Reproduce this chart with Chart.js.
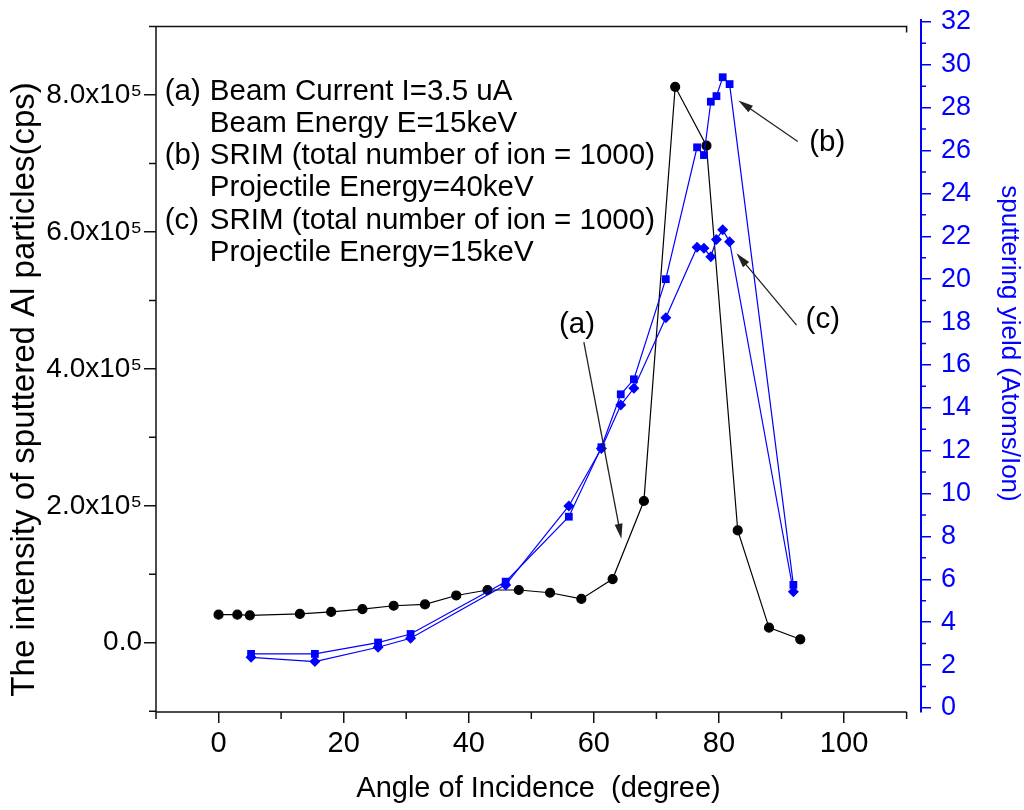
<!DOCTYPE html>
<html>
<head>
<meta charset="utf-8">
<title>Sputtering of Al vs angle of incidence</title>
<script src="https://cdn.jsdelivr.net/npm/chart.js@4.4.1/dist/chart.umd.min.js"></script>
<style>
  html, body { margin: 0; padding: 0; background: #fff; }
  #wrap { width: 1024px; height: 810px; }
</style>
</head>
<body>
<div id="wrap"><canvas id="sputterChart" width="1024" height="810"></canvas></div>
<script>
// (a) measured intensity of sputtered Al (cps), left axis
const angleMeasured = [0, 3, 5, 13, 18, 23, 28, 33, 38, 43, 48, 53, 58, 63, 68, 73, 78, 83, 88, 93];
const intensityMeasured = [0.41e5, 0.41e5, 0.40e5, 0.42e5, 0.45e5, 0.49e5, 0.54e5, 0.56e5, 0.69e5, 0.77e5,
                           0.77e5, 0.73e5, 0.64e5, 0.93e5, 2.07e5, 8.12e5, 7.26e5, 1.64e5, 0.22e5, 0.05e5];

// (b) and (c) SRIM sputtering yield (atoms/ion), right axis
const angleSrim = [5.2, 15.4, 25.5, 30.7, 45.9, 56, 61.2, 64.3, 66.4, 71.5, 76.5, 77.6, 78.7, 79.6, 80.6, 81.7, 91.9];
const yield40keV = [2.52, 2.52, 3.05, 3.45, 5.89, 8.92, 12.16, 14.63, 15.33, 20.0, 26.15, 25.79, 28.28, 28.54, 29.42, 29.1, 5.74];
const yield15keV = [2.36, 2.16, 2.83, 3.25, 5.74, 9.42, 12.1, 14.13, 14.91, 18.2, 21.49, 21.44, 21.05, 21.85, 22.3, 21.75, 5.42];

// ticks
const angleTicks = [0, 20, 40, 60, 80, 100];
const angleMinor = [-10, 10, 30, 50, 70, 90, 110];
const intensityTicks = [0, 2e5, 4e5, 6e5, 8e5];
const intensityMinor = [-1e5, 1e5, 3e5, 5e5, 7e5, 9e5];
const yieldTicks = [0, 2, 4, 6, 8, 10, 12, 14, 16, 18, 20, 22, 24, 26, 28, 30, 32];
const yieldMinor = [1, 3, 5, 7, 9, 11, 13, 15, 17, 19, 21, 23, 25, 27, 29, 31];

// axis titles
const leftTitle = 'The intensity of sputtered Al particles(cps)';
const rightTitle = 'sputtering yield (Atoms/Ion)';

// annotation text
const noteLabels = ['(a)', '', '(b)', '', '(c)', ''];
const noteLines = ['Beam Current I=3.5 uA', 'Beam Energy E=15keV',
                   'SRIM (total number of ion = 1000)', 'Projectile Energy=40keV',
                   'SRIM (total number of ion = 1000)', 'Projectile Energy=15keV'];
// arrows: label, label position, tail, head (angle, intensity)
const arrowNames = ['(a)', '(b)', '(c)'];
const arrowLabelAt = [[57.3, 4.64e5], [97.3, 7.3e5], [96.6, 4.71e5]];
const arrowTail = [[58.4, 4.39e5], [92.6, 7.32e5], [92.4, 4.64e5]];
const arrowHead = [[64.4, 1.52e5], [83.1, 7.92e5], [82.8, 5.69e5]];

const BLUE = '#0000ff';
const SANS = "'Liberation Sans', Arial, sans-serif";
const NARROW = "'Liberation Sans Narrow', 'Liberation Sans', Arial, sans-serif";

function toPoints(xs, ys) {
    return xs.map((v, i) => ({ x: v, y: ys[i] }));
}

function noPad(s) {
    s.paddingTop = 0; s.paddingBottom = 0; s.paddingLeft = 0; s.paddingRight = 0;
}

const framePlugin = {
    id: 'framePlugin',
    afterDraw(chart) {
        const { ctx, chartArea, scales } = chart;
        const x = scales.x, y = scales.y, y1 = scales.y1;
        const xl = x.getPixelForValue(-10);
        const xr = x.getPixelForValue(110);
        const yt = y.getPixelForValue(9e5);
        const yb = chartArea.bottom;

        ctx.save();
        ctx.strokeStyle = '#111';
        ctx.lineWidth = 1.5;
        ctx.beginPath();
        ctx.moveTo(xl, yb); ctx.lineTo(xr, yb);
        ctx.moveTo(xl, yb); ctx.lineTo(xl, yt);
        ctx.moveTo(xl, yt); ctx.lineTo(xr, yt); ctx.lineTo(xr, yt + 6);
        // minor ticks
        angleMinor.forEach(v => {
            const px = x.getPixelForValue(v);
            ctx.moveTo(px, yb); ctx.lineTo(px, yb + 7);
        });
        intensityMinor.forEach(v => {
            const py = y.getPixelForValue(v);
            ctx.moveTo(xl, py); ctx.lineTo(xl - 7, py);
        });
        ctx.stroke();

        ctx.strokeStyle = BLUE;
        ctx.beginPath();
        yieldMinor.forEach(v => {
            const py = y1.getPixelForValue(v);
            ctx.moveTo(chartArea.right, py); ctx.lineTo(chartArea.right + 5, py);
        });
        ctx.stroke();

        // axis titles
        ctx.textAlign = 'center';
        ctx.textBaseline = 'middle';
        ctx.fillStyle = '#000';
        ctx.font = '33px ' + SANS;
        ctx.save();
        ctx.translate(25, y.getPixelForValue(3.7e5));
        ctx.rotate(-Math.PI / 2);
        ctx.fillText(leftTitle, 0, 0);
        ctx.restore();
        ctx.fillStyle = BLUE;
        ctx.font = '26px ' + SANS;
        ctx.save();
        ctx.translate(1009, y1.getPixelForValue(17));
        ctx.rotate(Math.PI / 2);
        ctx.fillText(rightTitle, 0, 0);
        ctx.restore();

        // text block
        ctx.fillStyle = '#000';
        ctx.font = '29.5px ' + SANS;
        ctx.textBaseline = 'alphabetic';
        ctx.textAlign = 'left';
        const bx0 = x.getPixelForValue(-8.6);
        const bx1 = x.getPixelForValue(-1.4);
        const by = y.getPixelForValue(7.93e5);
        noteLines.forEach((t, i) => {
            if (noteLabels[i]) ctx.fillText(noteLabels[i], bx0, by + i * 32.2);
            ctx.fillText(t, bx1, by + i * 32.2);
        });

        // arrows
        ctx.textAlign = 'center';
        ctx.textBaseline = 'middle';
        ctx.strokeStyle = '#222';
        ctx.lineWidth = 1.3;
        arrowNames.forEach((name, i) => {
            ctx.fillStyle = '#000';
            ctx.fillText(name, x.getPixelForValue(arrowLabelAt[i][0]), y.getPixelForValue(arrowLabelAt[i][1]));
            const tx = x.getPixelForValue(arrowTail[i][0]), ty = y.getPixelForValue(arrowTail[i][1]);
            const hx = x.getPixelForValue(arrowHead[i][0]), hy = y.getPixelForValue(arrowHead[i][1]);
            const a = Math.atan2(hy - ty, hx - tx);
            ctx.beginPath();
            ctx.moveTo(tx, ty);
            ctx.lineTo(hx - 10 * Math.cos(a), hy - 10 * Math.sin(a));
            ctx.stroke();
            ctx.fillStyle = '#222';
            ctx.beginPath();
            ctx.moveTo(hx, hy);
            ctx.lineTo(hx - 15 * Math.cos(a) + 4 * Math.sin(a), hy - 15 * Math.sin(a) - 4 * Math.cos(a));
            ctx.lineTo(hx - 15 * Math.cos(a) - 4 * Math.sin(a), hy - 15 * Math.sin(a) + 4 * Math.cos(a));
            ctx.closePath();
            ctx.fill();
        });
        ctx.restore();
    }
};

const ctx = document.getElementById('sputterChart').getContext('2d');
new Chart(ctx, {
    type: 'line',
    data: {
        datasets: [
            {
                label: '(a) measured',
                data: toPoints(angleMeasured, intensityMeasured),
                yAxisID: 'y',
                borderColor: '#000',
                backgroundColor: '#000',
                borderWidth: 1.2,
                pointStyle: 'circle',
                pointRadius: 4.5,
                order: 2
            },
            {
                label: '(b) SRIM 40keV',
                data: toPoints(angleSrim, yield40keV),
                yAxisID: 'y1',
                borderColor: BLUE,
                backgroundColor: BLUE,
                borderWidth: 1.2,
                pointStyle: 'rect',
                pointRadius: 5.5,
                pointBorderWidth: 0,
                order: 1
            },
            {
                label: '(c) SRIM 15keV',
                data: toPoints(angleSrim, yield15keV),
                yAxisID: 'y1',
                borderColor: BLUE,
                backgroundColor: BLUE,
                borderWidth: 1.2,
                pointStyle: 'rectRot',
                pointRadius: 5.5,
                pointBorderWidth: 0,
                order: 0
            }
        ]
    },
    options: {
        responsive: false,
        animation: false,
        devicePixelRatio: 1,
        layout: { padding: { top: 20, left: 0, right: 0, bottom: 0 } },
        plugins: {
            legend: { display: false },
            tooltip: { enabled: false }
        },
        elements: { line: { tension: 0 } },
        scales: {
            x: {
                type: 'linear',
                min: -10,
                max: 112.3,
                afterBuildTicks: s => { s.ticks = angleTicks.map(v => ({ value: v })); },
                afterFit: s => { s.height = 98; noPad(s); },
                border: { display: false },
                grid: { drawOnChartArea: false, color: '#111', lineWidth: 1.5, tickLength: 11 },
                ticks: {
                    autoSkip: false, maxRotation: 0, padding: 4, color: '#000',
                    font: { family: NARROW, size: 29 }
                },
                title: {
                    display: true,
                    text: 'Angle of Incidence  (degree)',
                    color: '#000',
                    font: { family: NARROW, size: 29, lineHeight: 1 },
                    padding: { top: 0, bottom: 7 }
                }
            },
            y: {
                type: 'linear',
                position: 'left',
                min: -1.012e5,
                max: 9.096e5,
                afterBuildTicks: s => { s.ticks = intensityTicks.map(v => ({ value: v })); },
                afterFit: s => { s.width = 156; noPad(s); },
                border: { display: false },
                grid: { drawOnChartArea: false, color: '#111', lineWidth: 1.5, tickLength: 12 },
                ticks: {
                    autoSkip: false, padding: 2, color: '#000',
                    font: { family: SANS, size: 28 },
                    callback: v => v === 0 ? '0.0' : (v / 1e5).toFixed(1) + 'x10\u2075'
                }
            },
            y1: {
                type: 'linear',
                position: 'right',
                min: -0.19,
                max: 32.09,
                afterBuildTicks: s => { s.ticks = yieldTicks.map(v => ({ value: v })); },
                afterFit: s => { s.width = 103; noPad(s); },
                border: { display: true, color: BLUE, width: 2 },
                grid: { drawOnChartArea: false, color: BLUE, lineWidth: 1.5, tickLength: 10 },
                ticks: {
                    autoSkip: false, padding: 10, color: BLUE,
                    font: { family: SANS, size: 27 }
                }
            }
        }
    },
    plugins: [framePlugin]
});
</script>
</body>
</html>
